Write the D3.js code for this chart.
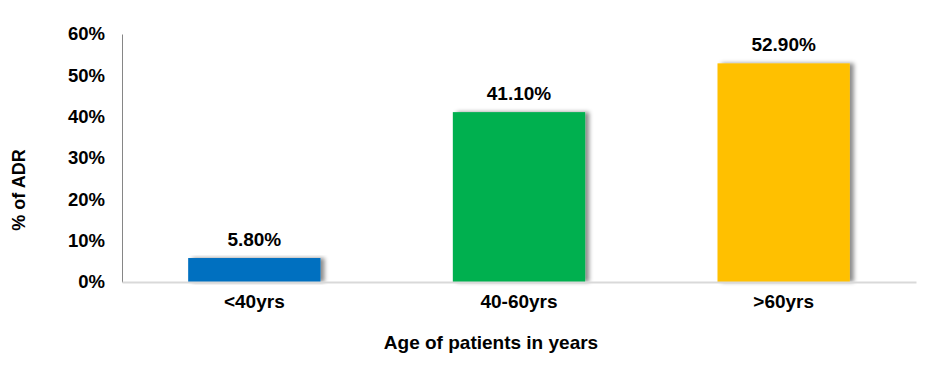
<!DOCTYPE html>
<html>
<head>
<meta charset="utf-8">
<script src="https://cdn.jsdelivr.net/npm/d3@7"></script>
<style>
  body { margin: 0; background: #fff; }
  text { font-family: "Liberation Sans", Arial, sans-serif; font-weight: bold; fill: #000; }
</style>
</head>
<body>
<div id="chart"></div>
<script>
const ageGroups = ["<40yrs", "40-60yrs", ">60yrs"];
const adrPercent = [5.8, 41.1, 52.9];
const barColors = ["#0070C0", "#00B050", "#FFC000"];
const yTicks = [0, 10, 20, 30, 40, 50, 60];

const width = 942, height = 365;
const margin = {top: 34, right: 26, bottom: 83, left: 122};

const svg = d3.select("#chart").append("svg")
    .attr("width", width)
    .attr("height", height);

// soft shadow to the right of each bar
const defs = svg.append("defs");
const shadow = defs.append("filter")
    .attr("id", "barShadow")
    .attr("x", "-10%").attr("y", "-10%")
    .attr("width", "130%").attr("height", "120%");
shadow.append("feDropShadow")
    .attr("dx", 4).attr("dy", 0)
    .attr("stdDeviation", 2)
    .attr("flood-color", "#000")
    .attr("flood-opacity", 0.45);

const x = d3.scaleBand()
    .domain(ageGroups)
    .range([margin.left, width - margin.right])
    .paddingInner(0.5)
    .paddingOuter(0.25);

const y = d3.scaleLinear()
    .domain([0, 60])
    .range([height - margin.bottom, margin.top]);

// y axis
const yAxis = svg.append("g")
    .attr("transform", `translate(${margin.left},0)`)
    .call(d3.axisLeft(y).tickValues(yTicks).tickFormat(d => d + "%").tickSize(0).tickPadding(17));
yAxis.select(".domain").attr("stroke", "#868686").attr("stroke-width", 1);
yAxis.selectAll("text").style("font-size", "18.5px");

// bars
svg.append("g").selectAll("rect")
    .data(adrPercent)
    .join("rect")
    .attr("x", (d, i) => x(ageGroups[i]))
    .attr("y", d => y(d))
    .attr("width", x.bandwidth())
    .attr("height", d => y(0) - y(d))
    .attr("fill", (d, i) => barColors[i])
    .attr("filter", "url(#barShadow)");

// x axis
const xAxis = svg.append("g")
    .attr("transform", `translate(0,${y(0)})`)
    .call(d3.axisBottom(x).tickSize(0).tickPadding(13));
xAxis.select(".domain").attr("stroke", "#d9d9d9").attr("stroke-width", 2);
xAxis.selectAll("text").style("font-size", "19px");

// value labels
svg.append("g").selectAll("text")
    .data(adrPercent)
    .join("text")
    .attr("x", (d, i) => x(ageGroups[i]) + x.bandwidth() / 2)
    .attr("y", d => y(d) - 12)
    .attr("text-anchor", "middle")
    .style("font-size", "19px")
    .text(d => d.toFixed(2) + "%");

// axis titles
svg.append("text")
    .attr("x", 491)
    .attr("y", 349)
    .attr("text-anchor", "middle")
    .style("font-size", "19px")
    .text("Age of patients in years");

svg.append("text")
    .attr("transform", `translate(25,190) rotate(-90)`)
    .attr("text-anchor", "middle")
    .style("font-size", "18px")
    .text("% of ADR");
</script>
</body>
</html>
